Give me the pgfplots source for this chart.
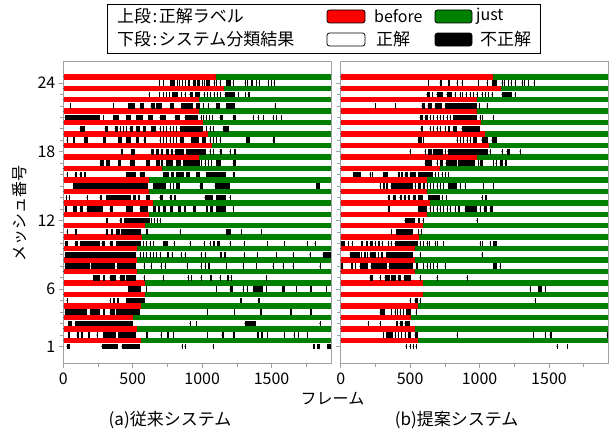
\documentclass[border=0pt]{standalone}
\usepackage{fontspec}
\setmainfont{Noto Sans CJK JP}
\usepackage{pgfplots}
\usepackage{pgfplotstable}
\pgfplotsset{compat=1.18}
\definecolor{jred}{RGB}{255,0,0}
\definecolor{jgreen}{RGB}{0,128,0}
\definecolor{frame}{RGB}{160,160,160}
\newcommand\lbl{\fontsize{16bp}{19bp}\selectfont}
\newcommand\capfont{\fontsize{17bp}{20bp}\selectfont}

% correct label per mesh (same for both systems): frames labelled "before", then "just" up to the end
\pgfplotstableread{
row before end
24 1098 1930
23 1156 1930
22 978 1930
21 978 1930
20 1007 1930
19 1040 1930
18 1068 1930
17 978 1930
16 712 1930
15 620 1930
14 618 1930
13 646 1930
12 618 1930
11 590 1930
10 564 1930
9 532 1930
8 532 1930
7 532 1930
6 590 1930
5 590 1930
4 560 1930
3 504 1930
2 532 1930
1 560 1930
}\bounds

% (a) conventional system: wrongly classified frame intervals
\pgfplotstableread{
row x0 x1
24 690 697
24 719 726
24 771 803
24 819 826
24 834 841
24 858 865
24 877 884
24 898 915
24 934 954
24 963 982
24 999 1006
24 1013 1020
24 1030 1054
24 1083 1090
24 1097 1104
24 1126 1138
24 1174 1210
24 1222 1229
24 1306 1313
24 1323 1330
24 1354 1366
24 1390 1397
24 1407 1414
24 1474 1481
24 1498 1505
24 1515 1522
23 616 623
23 690 697
23 719 726
23 743 750
23 762 769
23 786 827
23 851 858
23 875 882
23 910 934
23 951 982
23 1011 1018
23 1035 1042
23 1059 1066
23 1083 1090
23 1107 1114
23 1131 1138
23 1162 1234
23 1258 1265
23 1311 1318
23 1330 1342
22 48 55
22 359 366
22 467 515
22 551 582
22 628 659
22 671 714
22 767 795
22 851 934
22 958 982
22 1006 1013
22 1042 1049
22 1102 1126
22 1174 1234
22 1521 1528
21 12 264
21 288 295
21 359 400
21 455 491
21 527 575
21 611 647
21 695 743
21 803 839
21 874 971
21 989 995
21 1008 1014
21 1028 1034
21 1052 1058
21 1071 1077
21 1126 1150
21 1222 1246
21 1366 1376
21 1400 1407
21 1440 1447
21 1509 1516
21 1533 1540
21 1569 1576
20 120 156
20 299 323
20 371 395
20 407 414
20 431 438
20 455 462
20 479 503
20 527 551
20 575 599
20 635 671
20 695 702
20 719 726
20 743 750
20 767 774
20 791 798
20 815 822
20 839 846
20 851 1006
20 1030 1037
20 1054 1061
20 1078 1085
20 1150 1190
19 24 34
19 72 84
19 150 175
19 288 310
19 395 420
19 455 490
19 527 545
19 580 592
19 695 702
19 719 726
19 743 750
19 767 774
19 791 798
19 815 822
19 839 870
19 920 975
19 1000 1030
19 1054 1061
19 1078 1085
19 1102 1109
19 1126 1133
19 1318 1342
19 1509 1521
18 419 430
18 491 515
18 635 650
18 670 690
18 705 719
18 743 760
18 775 791
18 803 870
18 885 1030
18 1054 1066
18 1078 1085
18 1126 1140
18 1198 1210
18 1232 1246
17 264 290
17 310 335
17 395 419
17 479 515
17 599 623
17 671 695
17 705 719
17 743 791
17 815 851
17 863 982
17 994 1001
17 1018 1025
17 1042 1049
17 1066 1073
17 1102 1138
17 1222 1246
16 24 34
16 84 100
16 118 132
16 150 160
16 455 527
16 551 587
16 719 760
16 775 800
16 815 870
16 885 910
16 958 982
16 1030 1174
16 1222 1236
15 72 611
15 647 743
15 767 774
15 791 798
15 815 839
15 982 1006
15 1090 1198
15 1821 1845
14 19 30
14 40 48
14 168 180
14 264 280
14 311 491
14 503 525
14 540 551
14 599 623
14 695 720
14 767 780
14 800 815
14 1018 1078
14 1102 1174
14 1198 1205
13 12 24
13 72 100
13 120 144
13 168 288
13 335 359
13 455 503
13 551 611
13 647 670
13 685 695
13 719 740
13 770 791
13 827 850
13 870 887
13 934 958
13 1030 1040
13 1060 1078
13 1102 1174
13 1222 1232
12 311 320
12 407 420
12 440 623
12 635 642
12 655 662
12 675 682
12 695 702
11 24 34
11 84 96
11 311 320
11 347 360
11 380 407
11 419 563
11 599 610
11 839 846
11 1174 1210
11 1280 1287
11 1426 1433
10 12 36
10 84 108
10 120 264
10 276 300
10 335 359
10 383 563
10 575 582
10 599 606
10 623 630
10 647 654
10 719 755
10 795 803
10 910 917
10 1010 1020
10 1054 1062
10 1080 1090
10 1110 1126
10 1198 1205
10 1300 1310
10 1470 1477
10 1590 1597
10 1755 1762
10 1809 1816
9 12 527
9 551 558
9 575 582
9 599 606
9 623 630
9 647 654
9 671 678
9 695 702
9 750 760
9 780 791
9 845 855
9 875 887
9 990 1000
9 1020 1030
9 1130 1140
9 1160 1170
9 1300 1307
9 1395 1402
9 1533 1540
9 1653 1660
9 1773 1780
9 1869 1930
8 12 190
8 200 370
8 385 527
8 580 590
8 630 640
8 700 710
8 730 743
8 890 900
8 990 1000
8 1020 1030
8 1045 1054
8 1174 1181
8 1294 1301
8 1390 1397
8 1509 1516
8 1581 1588
8 1653 1660
8 1845 1852
7 216 264
7 288 300
7 335 383
7 407 443
7 455 527
7 580 590
7 719 726
7 895 905
7 920 930
7 990 1000
7 1060 1070
7 1126 1133
7 1180 1190
7 1205 1215
7 1462 1469
6 467 563
6 599 606
6 1102 1109
6 1198 1222
6 1294 1301
6 1320 1330
6 1366 1438
6 1462 1469
6 1575 1600
6 1677 1684
6 1780 1790
6 1893 1900
5 24 31
5 335 345
5 360 371
5 390 400
5 455 587
5 1275 1285
5 1402 1414
4 12 168
4 192 264
4 288 300
4 335 371
4 383 551
4 1035 1045
4 1230 1240
4 1420 1430
4 1635 1645
4 1780 1790
3 36 60
3 84 503
3 910 917
3 958 965
3 1306 1390
3 1845 1852
2 36 48
2 96 110
2 130 144
2 180 192
2 240 252
2 288 380
2 395 527
2 599 611
2 700 710
2 750 760
2 791 798
2 1035 1045
2 1140 1160
2 1225 1235
2 1395 1410
2 1425 1435
2 1470 1477
2 1590 1600
2 1660 1670
2 1690 1700
2 1755 1765
1 24 48
1 276 395
1 420 551
1 855 865
1 875 887
1 1078 1085
1 1800 1810
1 1830 1845
1 1900 1930
}\segA

% (b) proposed system: wrongly classified frame intervals
\pgfplotstableread{
row x0 x1
24 630 637
24 714 726
24 774 786
24 834 841
24 870 877
24 990 997
24 1050 1057
24 1090 1122
24 1158 1165
24 1175 1182
24 1206 1213
24 1223 1230
24 1254 1261
24 1302 1309
24 1319 1326
24 1350 1357
24 1390 1397
23 618 642
23 660 667
23 690 738
23 762 798
23 822 829
23 858 865
23 875 882
23 900 907
23 930 937
23 954 961
23 978 985
23 1014 1021
23 1038 1045
23 1062 1069
23 1086 1093
23 1158 1230
23 1254 1261
22 250 257
22 394 401
22 582 610
22 625 654
22 678 726
22 750 978
22 995 1002
22 1050 1057
21 570 594
21 606 630
21 642 649
21 666 673
21 690 697
21 714 721
21 738 745
21 762 769
21 786 793
21 810 978
21 1002 1009
21 1019 1026
21 1098 1105
20 575 594
20 642 649
20 666 673
20 690 697
20 714 721
20 750 760
20 776 786
20 810 834
20 870 1002
19 557 582
19 594 601
19 834 846
19 858 865
19 882 889
19 906 913
19 930 937
19 954 978
19 1014 1062
19 1086 1122
18 497 504
18 606 615
18 630 654
18 666 738
18 750 757
18 770 1062
18 1074 1081
18 1158 1170
18 1194 1218
18 1290 1297
17 606 654
17 690 700
17 715 740
17 755 834
17 845 966
17 990 997
17 1002 1026
17 1098 1105
17 1115 1122
17 1146 1170
17 1182 1194
16 89 149
16 209 215
16 225 233
16 305 341
16 413 425
16 437 449
16 461 485
16 497 545
16 557 666
16 678 685
16 702 709
16 726 733
16 750 757
16 774 781
15 281 288
15 305 317
15 329 340
15 360 521
15 533 545
15 557 580
15 594 606
15 618 625
15 642 649
15 666 673
15 690 697
15 714 721
15 738 745
15 774 834
15 858 865
15 894 901
15 1026 1033
15 1098 1105
14 341 353
14 377 401
14 425 440
14 455 470
14 485 497
14 521 540
14 560 594
14 630 714
14 730 737
14 760 767
14 1014 1021
14 1040 1050
13 341 353
13 557 618
13 642 649
13 666 673
13 690 697
13 714 721
13 738 745
13 762 769
13 786 793
13 822 829
13 845 858
13 894 978
13 1002 1009
13 1030 1050
13 1074 1098
12 461 533
12 560 570
12 590 600
12 978 985
11 365 372
11 401 521
11 560 567
11 575 582
10 5 29
10 53 62
10 80 89
10 149 161
10 185 195
10 210 233
10 245 255
10 270 280
10 295 305
10 341 348
10 360 365
10 389 557
10 570 580
10 594 601
10 618 625
10 635 642
10 678 685
10 695 702
10 738 745
10 1002 1009
10 1019 1026
10 1074 1081
10 1100 1122
9 65 137
9 149 156
9 170 180
9 190 197
9 209 257
9 269 276
9 290 305
9 329 521
9 570 577
9 1014 1026
8 5 15
8 77 90
8 105 113
8 137 200
8 215 330
8 345 521
8 545 557
8 594 601
8 618 625
8 642 649
8 666 673
8 690 697
8 750 757
8 1098 1122
8 1146 1153
7 209 233
7 281 293
7 317 353
7 365 401
7 413 437
7 455 509
7 570 577
7 690 697
7 906 918
6 1362 1369
6 1423 1447
6 1471 1478
5 497 509
5 533 557
5 570 577
5 1399 1406
4 281 317
4 365 372
4 389 396
4 405 412
4 425 432
4 449 456
4 473 509
4 540 547
3 197 204
3 281 288
3 401 410
3 425 449
3 461 497
2 305 312
2 329 377
2 389 396
2 413 420
2 437 444
2 461 468
2 485 509
2 533 557
2 834 841
2 1387 1394
2 1471 1480
2 1505 1519
2 1915 1930
1 469 476
1 497 504
1 521 528
1 541 550
1 1555 1562
1 1632 1639
}\segB

\pgfplotsset{
  panel/.style={
    scale only axis, width=268bp, height=302.3bp, anchor=south west,
    xmin=0, xmax=1930, ymin=-0.47, ymax=25.92,
    axis on top,
    axis line style={draw=frame, line width=0.8bp},
    tick style={draw=frame, line width=0.7bp},
    tick align=outside, tick pos=left,
    major tick length=4.5bp, minor tick length=3.5bp,
    xtick={0,500,1000,1500}, minor xtick={250,750,1250,1750},
    ytick={1,6,12,18,24}, minor ytick={2,...,23},
    tick label style={font=\lbl, text=black,
      /pgf/number format/assume math mode=true,
      /pgf/number format/1000 sep={}},
    xticklabel style={yshift=-1.5bp},
  },
  seg/.style 2 args={only marks, mark=*, mark size=0.1pt,
    mark options={draw=none, fill=none}, forget plot,
    error bars/.cd, x dir=plus, x explicit, error mark=none,
    error bar style={draw=#1, line width=#2, line cap=butt}},
}

\begin{document}
\begin{tikzpicture}[x=1bp,y=1bp]
\useasboundingbox (0,0) rectangle (612,432);

\begin{axis}[panel, at={(63.3bp,68.7bp)}]
\addplot[seg={jgreen}{5.4bp}] table[x=before, y expr=\thisrow{row}+0.54, x error expr=\thisrow{end}-\thisrow{before}] {\bounds};
\addplot[seg={jred}{5.4bp}] table[x expr=0, y expr=\thisrow{row}+0.54, x error=before] {\bounds};
\addplot[seg={black}{5.6bp}] table[x=x0, y=row, x error expr=\thisrow{x1}-\thisrow{x0}] {\segA};
\end{axis}

\begin{axis}[panel, at={(340.7bp,68.7bp)}, yticklabels={}]
\addplot[seg={jgreen}{5.4bp}] table[x=before, y expr=\thisrow{row}+0.54, x error expr=\thisrow{end}-\thisrow{before}] {\bounds};
\addplot[seg={jred}{5.4bp}] table[x expr=0, y expr=\thisrow{row}+0.54, x error=before] {\bounds};
\addplot[seg={black}{5.6bp}] table[x=x0, y=row, x error expr=\thisrow{x1}-\thisrow{x0}] {\segB};
\end{axis}

% axis titles and captions
\node[font=\lbl, rotate=90] at (20,219) {メッシュ番号};
\node[font=\lbl] at (332.5,33) {フレーム};
\node[font=\capfont] at (170,12) {(a)従来システム};
\node[font=\capfont] at (456.7,12) {(b)提案システム};

% legend
\draw[black, line width=0.8bp] (107,379) rectangle (540,428);
\node[font=\capfont, anchor=west, inner sep=0pt] at (117,415.5) {上段\hspace{1.5bp}:\hspace{1.5bp}正解ラベル};
\node[font=\capfont, anchor=west, inner sep=0pt] at (117,393) {下段\hspace{1.5bp}:\hspace{1.5bp}システム分類結果};
\draw[black, line width=0.8bp, fill=jred, rounded corners=2.5bp] (327,409) rectangle (365,422);
\draw[black, line width=0.8bp, fill=jgreen, rounded corners=2.5bp] (435,409) rectangle (472,422);
\draw[black, line width=0.8bp, fill=white, rounded corners=2.5bp] (327,386) rectangle (365,399);
\draw[black, line width=0.8bp, fill=black, rounded corners=2.5bp] (435,386) rectangle (472,399);
\node[font=\lbl, anchor=west, inner sep=0pt] at (374,415.5) {before};
\node[font=\lbl, anchor=west, inner sep=0pt] at (476,415.5) {just};
\node[font=\capfont, anchor=west, inner sep=0pt] at (376,393) {正解};
\node[font=\capfont, anchor=west, inner sep=0pt] at (480,393) {不正解};
\end{tikzpicture}
\end{document}
